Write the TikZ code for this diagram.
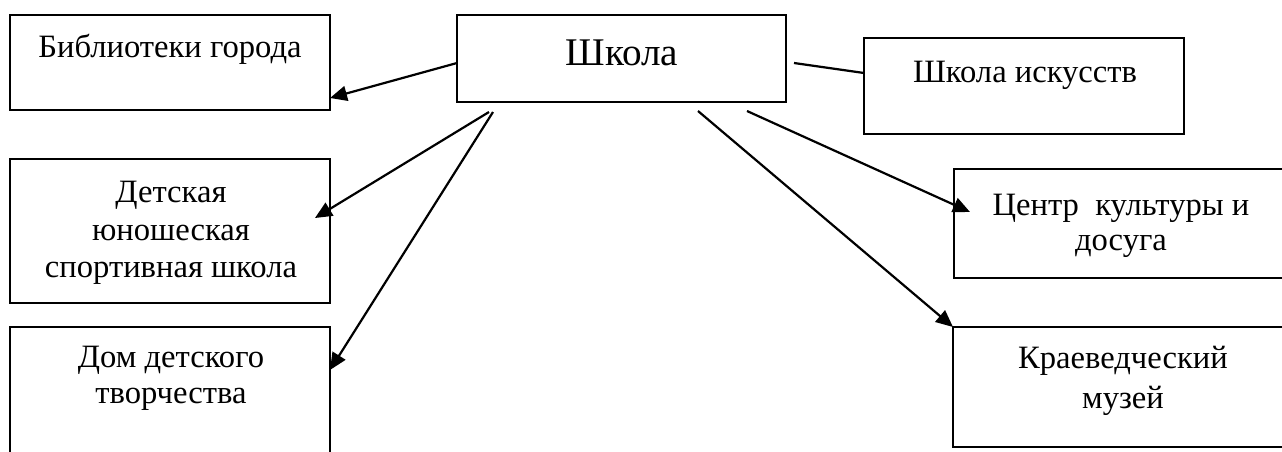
\documentclass[tikz,border=0pt]{standalone}
\usepackage{fontspec}
\setmainfont{Liberation Serif}
\usetikzlibrary{arrows.meta}
\begin{document}
\begin{tikzpicture}[x=0.5pt,y=-0.5pt,
  boxline/.style={draw=black,line width=1pt},
  lbl/.style={anchor=base,inner sep=0pt,font=\fontsize{16.3}{19}\selectfont},
  biglbl/.style={anchor=base,inner sep=0pt,font=\fontsize{19.6}{23}\selectfont},
  conn/.style={line width=1.1pt},
  arr/.style={line width=1.1pt,-{Triangle[length=8.5pt,width=7.5pt]}}]
\useasboundingbox (0,0) rectangle (1282,451);
\begin{scope}
\clip (0,0) rectangle (1282,451);
% boxes
\draw[boxline] (10,15) rectangle (330,110);
\draw[boxline] (457,15) rectangle (786,102);
\draw[boxline] (864,38) rectangle (1184,134);
\draw[boxline] (10,159) rectangle (330,303);
\draw[boxline] (10,327) rectangle (330,470);
\draw[boxline] (954,169) rectangle (1292,278);
\draw[boxline] (953,327) rectangle (1292,447);
\end{scope}
% labels
\node[lbl] (lib) at (170,57) {Библиотеки города};
\node[biglbl] (school) at (622,65) {Школа};
\node[lbl] (art) at (1025,82) {Школа искусств};
\node[lbl] (sp1) at (171,202) {Детская};
\node[lbl] (sp2) at (171,240) {юношеская};
\node[lbl] (sp3) at (171,277) {спортивная школа};
\node[lbl] (dom1) at (171,367) {Дом детского};
\node[lbl] (dom2) at (171,403) {творчества};
\node[lbl] (cen1) at (1121,215) {Центр\ \ культуры и};
\node[lbl] (cen2) at (1121,250) {досуга};
\node[lbl] (mus1) at (1123,368) {Краеведческий};
\node[lbl] (mus2) at (1123,408) {музей};
% connector end points
\coordinate (sL) at (457,63);
\coordinate (tL) at (330,98);
\coordinate (sR) at (794,63);
\coordinate (tR) at (864,73);
\coordinate (sS) at (489,112);
\coordinate (tS) at (315,218);
\coordinate (sD) at (493,112);
\coordinate (tD) at (330,370);
\coordinate (sC) at (747,111);
\coordinate (tC) at (970,212);
\coordinate (sM) at (698,111);
\coordinate (tM) at (953,327);
% connectors
\draw[arr] (sL) -- (tL);
\draw[conn] (sR) -- (tR);
\draw[arr] (sS) -- (tS);
\draw[arr] (sD) -- (tD);
\draw[arr] (sC) -- (tC);
\draw[arr] (sM) -- (tM);
\end{tikzpicture}
\end{document}
